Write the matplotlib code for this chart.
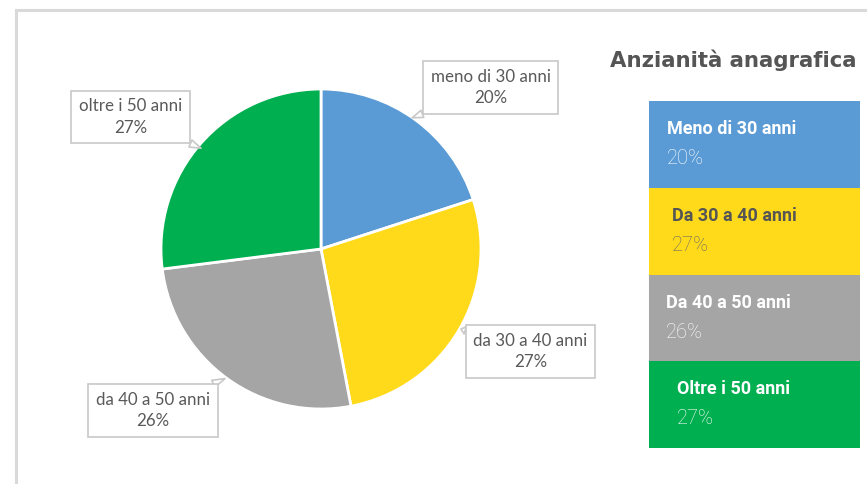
import matplotlib.pyplot as plt
from matplotlib.patches import Rectangle

# data
labels = ["meno di 30 anni", "da 30 a 40 anni", "da 40 a 50 anni", "oltre i 50 anni"]
legend_titles = ["Meno di 30 anni", "Da 30 a 40 anni", "Da 40 a 50 anni", "Oltre i 50 anni"]
values = [20, 27, 26, 27]
colors = ["#5B9BD5", "#FFDA1A", "#A5A5A5", "#00AF50"]
title = "Anzianità anagrafica"

W, H = 867, 484
fig = plt.figure(figsize=(W / 100, H / 100), dpi=100)

# outer frame (top + left edges visible)
fig.add_artist(Rectangle((15.5 / W, -0.1), 1.2, 1 - 10.5 / H + 0.1, transform=fig.transFigure,
                         fill=False, ec="#d9d9d9", lw=2.2))

# --- pie ---
cx, cy, r = 321, 249, 160
ax = fig.add_axes([(cx - r) / W, (H - cy - r) / H, 2 * r / W, 2 * r / H])
ax.pie(values, colors=colors, startangle=90, counterclock=False, radius=1,
       wedgeprops=dict(edgecolor="white", linewidth=2))
ax.set_xlim(-1, 1)
ax.set_ylim(-1, 1)
ax.set_aspect("equal")
ax.axis("off")

# callouts: (text pos, pointer target) in pie units
text_pos = [(1.06, 1.01), (1.31, -0.64), (-1.05, -1.01), (-1.19, 0.825)]
tips = [(0.57, 0.82), (0.875, -0.50), (-0.60, -0.81), (-0.75, 0.63)]
for lab, v, tp, tip in zip(labels, values, text_pos, tips):
    ax.annotate(f"{lab}\n{v}%", xy=tip, xytext=tp, ha="center", va="center",
                fontsize=12.2, family="Lato", color="#595959", linespacing=1.4,
                annotation_clip=False,
                bbox=dict(boxstyle="square,pad=0.45", fc="white", ec="#c8c8c8", lw=1.2),
                arrowprops=dict(arrowstyle="wedge,tail_width=0.45,shrink_factor=0.5",
                                fc="white", ec="#c8c8c8", lw=1.2, shrinkA=0, shrinkB=0))

# --- title ---
fig.text(610 / W, 1 - 67 / H, title, fontsize=15.3, fontweight="bold", color="#555555",
         family="DejaVu Sans", ha="left", va="baseline")

# --- legend panel ---
lx0, lx1, ly0, ly1 = 649, 860, 101, 448
lax = fig.add_axes([lx0 / W, (H - ly1) / H, (lx1 - lx0) / W, (ly1 - ly0) / H])
pos = range(len(values))
lax.barh(list(pos), [1] * len(values), height=1.0, color=colors, left=0)
lax.set_xlim(0, 1)
lax.set_ylim(len(values) - 0.5, -0.5)
lax.axis("off")

bw = lx1 - lx0
bh = (ly1 - ly0) / len(values)
x_off = [18, 23, 17, 28]
txt_col = ["white", "#555555", "white", "white"]
pct_col = ["white", "#666666", "white", "white"]
for i, (t, v) in enumerate(zip(legend_titles, values)):
    top = i - 0.5
    lax.text(x_off[i] / bw, top + 33 / bh, t, fontsize=13, fontweight="bold",
             family="Roboto", color=txt_col[i], va="baseline", ha="left")
    lax.text(x_off[i] / bw, top + 63 / bh, f"{v}%", fontsize=14.5, fontweight="light",
             family="Roboto", color=pct_col[i], va="baseline", ha="left")

fig.savefig("out.png", dpi=100)
